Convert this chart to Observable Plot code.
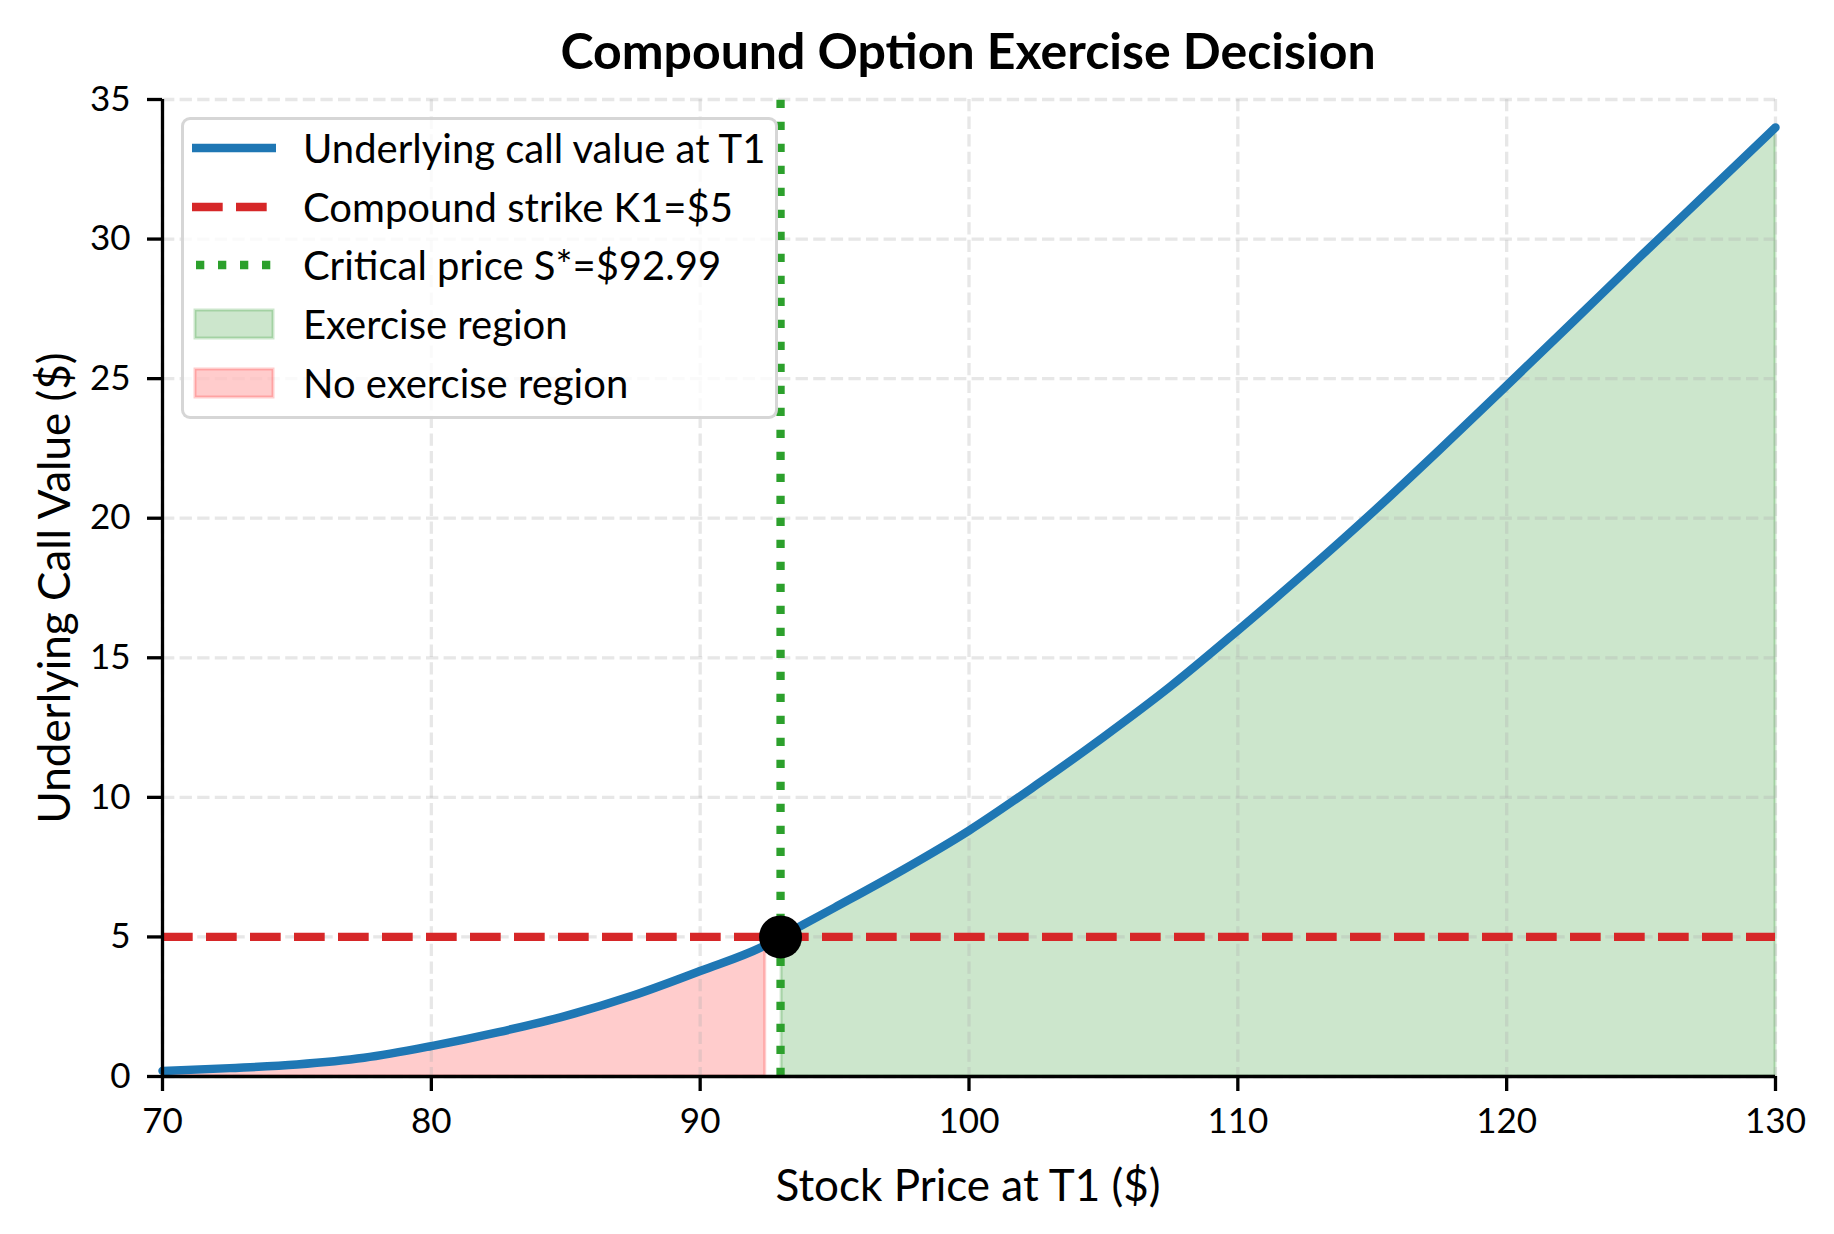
<!DOCTYPE html>
<html><head><meta charset="utf-8">
<script src="https://cdn.jsdelivr.net/npm/d3@7"></script>
<script src="https://cdn.jsdelivr.net/npm/@observablehq/plot@0.6"></script>
<style>
body{margin:0;background:#fff;}
#wrap{position:relative;width:1834px;height:1234px;font-family:Lato, sans-serif;color:#000;overflow:hidden;}
#wrap svg{position:absolute;left:0;top:0;}
.abs{position:absolute;white-space:nowrap;transform:translate(-50%,-50%);line-height:1;}
</style></head><body>
<div id="wrap"></div>
<script>
const titleText = "Compound Option Exercise Decision";
const xLabel = "Stock Price at T1 ($)";
const yLabel = "Underlying Call Value ($)";

const stockPrice = [70, 72.5, 75, 77.5, 80, 82.5, 85, 87.5, 90, 92.42, 93.03, 95, 97.5, 100, 102.5, 105, 107.5, 110, 112.5, 115, 117.5, 120, 122.5, 125, 127.5, 130];
const callValue  = [0.2, 0.3, 0.43, 0.67, 1.09, 1.59, 2.17, 2.9, 3.78, 4.7, 5.02, 6.05, 7.38, 8.81, 10.44, 12.16, 13.98, 15.98, 18.05, 20.2, 22.45, 24.75, 27.07, 29.4, 31.7, 34.0];

const xTicks = [70, 80, 90, 100, 110, 120, 130];
const yTicks = [0, 5, 10, 15, 20, 25, 30, 35];

const strikeK1 = 5;
const criticalPrice = 92.99;
const noExerciseEnd = 92.42;
const exerciseStart = 93.03;

const legendLabels = ["Underlying call value at T1", "Compound strike K1=$5", "Critical price S*=$92.99", "Exercise region", "No exercise region"];
const legendKinds  = ["solid", "dashed", "dotted", "patch", "patch"];
const legendColors = ["#1f77b4", "#d62728", "#2ca02c", "green", "red"];

const rows = stockPrice.map((s, i) => ({s, v: callValue[i]}));
const noEx = rows.filter(d => d.s <= noExerciseEnd);
const ex = rows.filter(d => d.s >= exerciseStart);

const gridStyle = {stroke: "#b0b0b0", strokeOpacity: 0.3, strokeWidth: 3.3, strokeDasharray: "12.3,5.3"};

const chart = Plot.plot({
  width: 1834, height: 1234,
  marginLeft: 162, marginRight: 59, marginTop: 99, marginBottom: 158,
  style: {fontFamily: "Lato, sans-serif", fontSize: "35px", color: "#000", background: "transparent", overflow: "visible"},
  x: {domain: [70, 130]},
  y: {domain: [0, 35]},
  marks: [
    Plot.areaY(noEx, {x: "s", y: "v", fill: "red", fillOpacity: 0.2, stroke: "red", strokeOpacity: 0.2, strokeWidth: 3, curve: "monotone-x"}),
    Plot.areaY(ex, {x: "s", y: "v", fill: "green", fillOpacity: 0.2, stroke: "green", strokeOpacity: 0.2, strokeWidth: 3, curve: "monotone-x"}),
    Plot.gridX(xTicks, gridStyle),
    Plot.gridY(yTicks, gridStyle),
    Plot.lineY(rows, {x: "s", y: "v", stroke: "#1f77b4", strokeWidth: 8.5, curve: "monotone-x"}),
    Plot.ruleY([strikeK1], {stroke: "#d62728", strokeWidth: 8.3, strokeDasharray: "30.7,13.3"}),
    Plot.ruleX([criticalPrice], {y1: 0, y2: 35, stroke: "#2ca02c", strokeWidth: 8.3, strokeDasharray: "8.3,13.7"}),
    Plot.dot([{s: criticalPrice, v: strikeK1}], {x: "s", y: "v", r: 21.5, fill: "#000"}),
    Plot.ruleX([70], {stroke: "#000", strokeWidth: 3.3}),
    Plot.ruleY([0], {stroke: "#000", strokeWidth: 3.3}),
    Plot.axisX({ticks: xTicks, tickSize: 15, tickPadding: 17, strokeWidth: 3.3, label: null}),
    Plot.axisY({ticks: yTicks, tickSize: 15, tickPadding: 17, strokeWidth: 3.3, label: null})
  ]
});

const wrap = document.getElementById("wrap");
wrap.appendChild(chart);

function addText(txt, x, y, css) {
  const d = document.createElement("div");
  d.className = "abs";
  d.textContent = txt;
  d.style.left = x + "px";
  d.style.top = y + "px";
  Object.assign(d.style, css);
  wrap.appendChild(d);
  return d;
}
addText(titleText, 968, 50, {fontSize: "50px", fontWeight: "700"});
addText(xLabel, 968, 1184, {fontSize: "44px"});
addText(yLabel, 53, 588, {fontSize: "44px", transform: "translate(-50%,-50%) rotate(-90deg)"});

// legend
const lg = document.createElement("div");
Object.assign(lg.style, {position: "absolute", left: "181px", top: "117px", width: "591px", height: "296px",
  border: "3px solid rgba(204,204,204,0.8)", borderRadius: "9px", background: "rgba(255,255,255,0.8)"});
wrap.appendChild(lg);
const ns = "http://www.w3.org/2000/svg";
legendLabels.forEach((lab, i) => {
  const cy = 28 + i * 58.7;
  const sv = document.createElementNS(ns, "svg");
  sv.setAttribute("width", 84); sv.setAttribute("height", 34);
  Object.assign(sv.style, {position: "absolute", left: "8px", top: (cy - 17) + "px"});
  const kind = legendKinds[i], col = legendColors[i];
  if (kind === "patch") {
    const r = document.createElementNS(ns, "rect");
    r.setAttribute("x", 3); r.setAttribute("y", 3); r.setAttribute("width", 78); r.setAttribute("height", 28);
    r.setAttribute("fill", col); r.setAttribute("fill-opacity", 0.2);
    r.setAttribute("stroke", col); r.setAttribute("stroke-opacity", 0.2); r.setAttribute("stroke-width", 3);
    sv.appendChild(r);
  } else {
    const l = document.createElementNS(ns, "line");
    l.setAttribute("x1", kind === "dotted" ? 4 : 0); l.setAttribute("x2", 84);
    l.setAttribute("y1", 17); l.setAttribute("y2", 17);
    l.setAttribute("stroke", col); l.setAttribute("stroke-width", 8.5);
    if (kind === "dashed") l.setAttribute("stroke-dasharray", "30.7,13.3");
    if (kind === "dotted") l.setAttribute("stroke-dasharray", "8.3,13.7");
    sv.appendChild(l);
  }
  lg.appendChild(sv);
  const t = document.createElement("div");
  t.textContent = lab;
  Object.assign(t.style, {position: "absolute", left: "119px", top: cy + "px", transform: "translateY(-50%)",
    fontSize: "40px", lineHeight: "1", whiteSpace: "nowrap"});
  lg.appendChild(t);
});
</script>
</body></html>
